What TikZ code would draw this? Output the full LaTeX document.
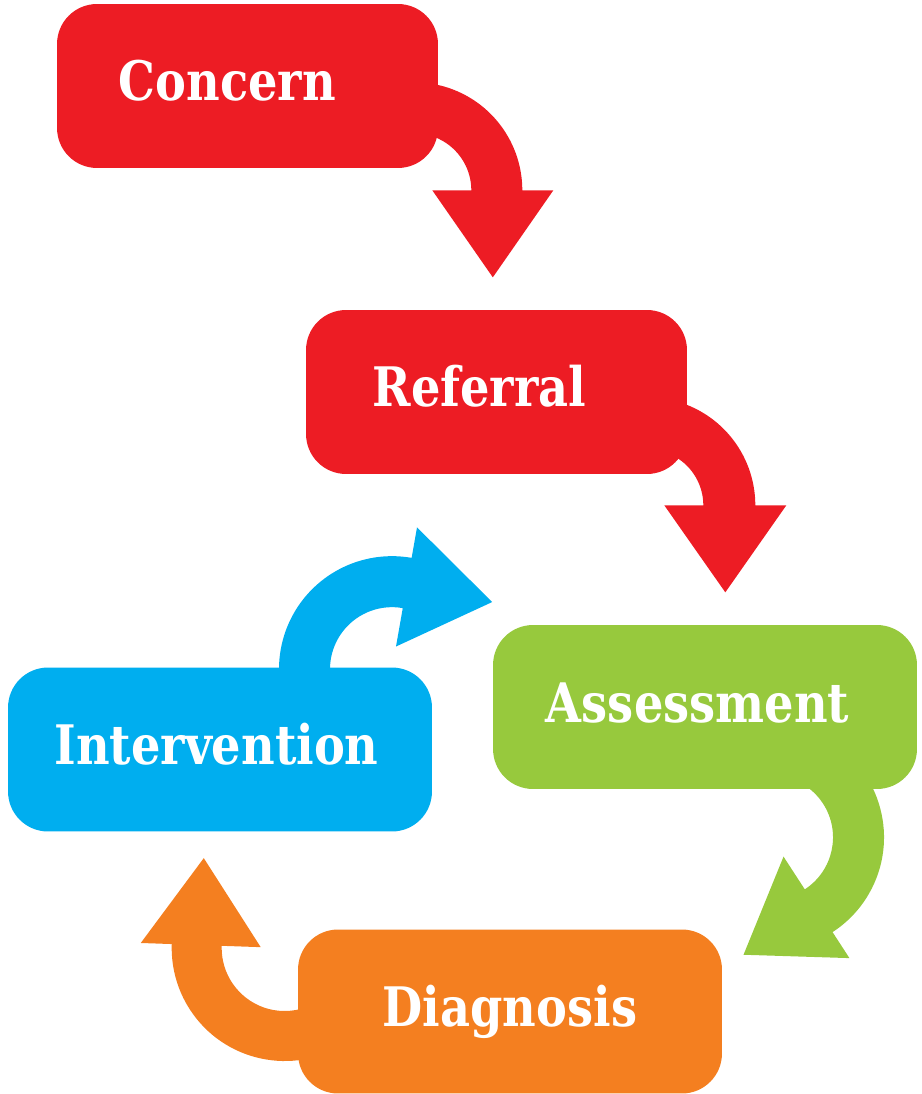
\documentclass[tikz,border=0pt]{standalone}
\usepackage{fontspec}
\setmainfont{DejaVu Serif}[FakeStretch=0.85]
\usepackage{tikz}
\usepackage{xcolor}
\usetikzlibrary{calc}
\definecolor{stagered}{HTML}{ED1C24}
\definecolor{stagegreen}{HTML}{97C93D}
\definecolor{stageorange}{HTML}{F47F20}
\definecolor{stageblue}{HTML}{00AEEF}
\tikzset{
    stage/.style = {rectangle, rounded corners=0.8cm, inner sep=0pt, minimum height=3.28cm, text=white, font=\fontsize{31}{36}\selectfont\bfseries, text height=0.8cm, text depth=0.2cm},
    stage-narrow/.style = {stage, minimum width=7.62cm},
    stage-wide/.style = {stage, minimum width=8.48cm},
}
% bent arrow: centre, inner radius, outer radius, start angle, end angle, colour
\newcommand{\bendarrow}[6]{%
    \fill[#6] ($(#1)+(#4:#3)$) arc[start angle=#4, end angle=#5, radius=#3]
        -- ($(#1)+(#5:{#3+31})$) -- ($(#1)+(#5:{(#2+#3-8)/2})+({#5+90}:87)$)
        -- ($(#1)+(#5:{#2-39})$) -- ($(#1)+(#5:#2)$)
        arc[start angle=#5, end angle=#4, radius=#2] -- cycle;
}

\begin{document}
\begin{tikzpicture}[x=0.02cm, y=-0.02cm]
\useasboundingbox (0,0) rectangle (921,1094);

\node[stage-narrow, fill=stagered] (concern) at (247.5,86) {\hspace*{-0.8cm}Concern};
\node[stage-narrow, fill=stagered] (referral) at (496.5,392) {\hspace*{-0.68cm}Referral};
\node[stage-wide, fill=stagegreen] (assessment) at (705,707) {\hspace*{-0.3cm}Assessment};
\node[stage-wide, fill=stageorange] (diagnosis) at (510,1011.5) {Diagnosis};
\node[stage-wide, fill=stageblue] (intervention) at (220,749.5) {\hspace*{-0.14cm}Intervention};

% centres of the bent arrows
\coordinate (bendA) at ($(concern.south east)+(-24,22)$);
\coordinate (bendB) at ($(referral.south east)+(-40,31)$);
\coordinate (bendC) at ($(assessment.south)+(66,48)$);
\coordinate (bendD) at ($(diagnosis.west)+(-13,-63.5)$);
\coordinate (bendE) at ($(intervention.north)+(172,2)$);

\bendarrow{bendA}{57}{108}{-100}{0}{stagered}
\bendarrow{bendB}{56}{108}{-100}{0}{stagered}
\bendarrow{bendC}{62}{113}{-60}{57}{stagegreen}
\bendarrow{bendD}{63}{113}{60}{182}{stageorange}
\bendarrow{bendE}{62}{113}{170}{280}{stageblue}
\end{tikzpicture}
\end{document}
